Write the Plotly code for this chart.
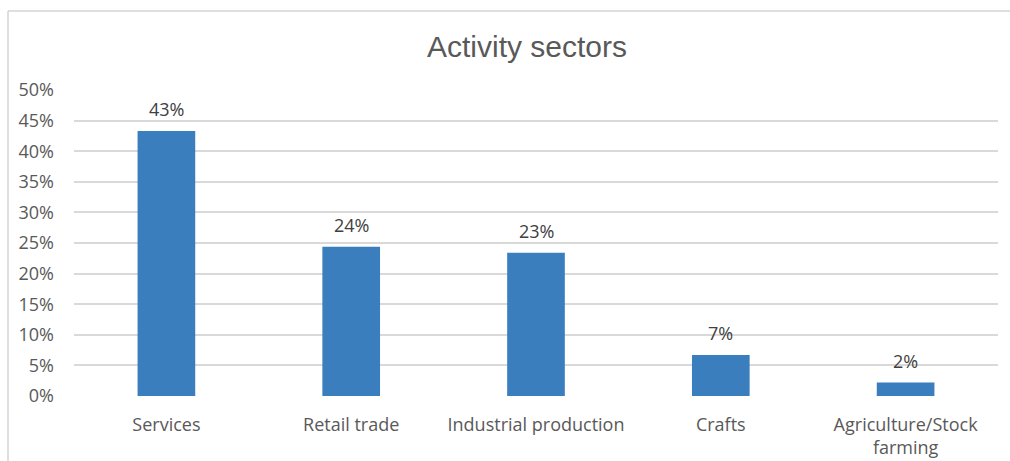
import plotly.graph_objects as go

# Share of businesses per activity sector
sectors = ["Services", "Retail trade", "Industrial production", "Crafts",
           "Agriculture/Stock<br>farming"]
shares = [0.433, 0.244, 0.234, 0.067, 0.022]
y_ticks = [0, 0.05, 0.10, 0.15, 0.20, 0.25, 0.30, 0.35, 0.40, 0.45, 0.50]

W, H = 1010, 461
ML, MR, MT, MB = 74, 12, 90, 65

BAR = "#3A7EBE"
GRID = "#D9D9D9"
FONT = "Open Sans, DejaVu Sans, sans-serif"

fig = go.Figure(
    go.Bar(
        x=sectors,
        y=shares,
        marker=dict(color=BAR, line=dict(width=0)),
        hoverinfo="skip",
    )
)

# value labels above each bar
for s, v in zip(sectors, shares):
    fig.add_annotation(
        x=s, y=v, text=f"{v:.0%}", showarrow=False,
        yanchor="bottom", yshift=8,
        font=dict(family=FONT, size=18, color="#404040"),
    )

# thin frame around the chart area (top and left edges)
pw, ph = W - ML - MR, H - MT - MB
x0 = (8 - ML) / pw
y0 = (H - MB - 11) / ph
fig.add_shape(type="line", xref="paper", yref="paper",
              x0=x0, x1=(W + 5 - ML) / pw, y0=y0, y1=y0,
              line=dict(color="#BFBFBF", width=1))
fig.add_shape(type="line", xref="paper", yref="paper",
              x0=x0, x1=x0, y0=y0, y1=-(MB + 5) / ph,
              line=dict(color="#BFBFBF", width=1))

fig.update_layout(
    width=W, height=H,
    margin=dict(l=ML, r=MR, t=MT, b=MB, autoexpand=False),
    paper_bgcolor="white",
    plot_bgcolor="white",
    bargap=0.688,
    showlegend=False,
    title=dict(
        text="Activity sectors",
        x=527 / W, xref="container", xanchor="center",
        y=1 - 46 / H, yref="container", yanchor="middle",
        font=dict(family="Liberation Sans, Arial, sans-serif", size=30, color="#595959"),
    ),
    xaxis=dict(
        automargin=False,
        showgrid=False, showline=False, zeroline=False,
        ticks="", ticklabelstandoff=16,
        tickfont=dict(family=FONT, size=18, color="#595959"),
    ),
    yaxis=dict(
        automargin=False,
        range=[0, 0.5],
        tickvals=y_ticks,
        tickformat=".0%",
        showgrid=True, gridcolor=GRID, gridwidth=1.5,
        zeroline=False, showline=False,
        ticks="", ticklabelstandoff=19,
        tickfont=dict(family=FONT, size=18, color="#595959"),
    ),
)

fig.write_html("out.html", config={"displayModeBar": False})
